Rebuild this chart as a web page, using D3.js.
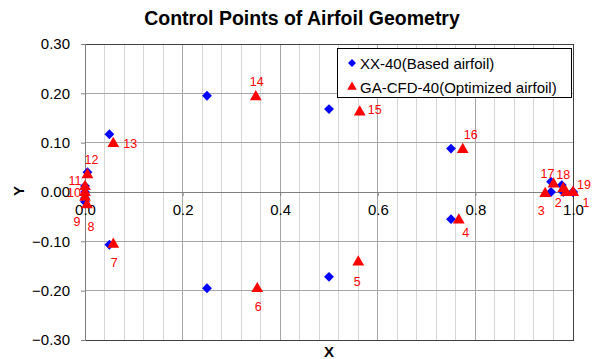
<!DOCTYPE html>
<html>
<head>
<meta charset="utf-8">
<script src="https://cdn.jsdelivr.net/npm/d3@7"></script>
<style>
  html, body { margin: 0; padding: 0; background: #fff; }
  svg { display: block; font-family: "Liberation Sans", Arial, sans-serif; }
</style>
</head>
<body>
<svg id="chart" width="597" height="359"></svg>
<script>
// Control point coordinates, numbered 1..19 (trailing edge -> lower surface -> leading edge -> upper surface)
const pointIds = [1, 2, 3, 4, 5, 6, 7, 8, 9, 10, 11, 12, 13, 14, 15, 16, 17, 18, 19];
const baseX = [1.0, 0.98, 0.955, 0.75, 0.50, 0.25, 0.05, 0.0, 0.0, 0.0, 0.0, 0.005, 0.05, 0.25, 0.50, 0.75, 0.955, 0.977, 1.0];
const baseY = [0.0, 0.0, 0.0, -0.055, -0.172, -0.195, -0.107, -0.02, -0.012, 0.0, 0.012, 0.04, 0.117, 0.195, 0.168, 0.088, 0.021, 0.014, 0.0];
const optX = [1.0, 0.986, 0.943, 0.766, 0.56, 0.353, 0.058, 0.004, 0.0, 0.0, 0.0, 0.005, 0.058, 0.35, 0.563, 0.774, 0.96, 0.98, 1.0];
const optY = [0.0, 0.0, -0.002, -0.056, -0.141, -0.195, -0.105, -0.025, -0.01, 0.0, 0.012, 0.036, 0.099, 0.194, 0.163, 0.087, 0.017, 0.008, 0.0];
const seriesNames = ["XX-40(Based airfoil)", "GA-CFD-40(Optimized airfoil)"];
const xTicks = [0.0, 0.2, 0.4, 0.6, 0.8, 1.0];
const yTicks = [-0.30, -0.20, -0.10, 0.00, 0.10, 0.20, 0.30];

const svg = d3.select("#chart");
const plotLeft = 85, plotRight = 573, plotTop = 44, plotBottom = 340;

const x = d3.scaleLinear().domain([0, 1]).range([plotLeft, plotRight]);
const y = d3.scaleLinear().domain([-0.3, 0.3]).range([plotBottom, plotTop]);

// Title
svg.append("text")
  .attr("x", 302).attr("y", 25)
  .attr("text-anchor", "middle")
  .attr("font-size", 19.5).attr("font-weight", "bold")
  .text("Control Points of Airfoil Geometry");

// Minor vertical gridlines every 0.04, major every 0.2
const minorX = d3.range(0, 1.0001, 0.04);
svg.append("g").selectAll("line").data(minorX).join("line")
  .attr("x1", d => x(d)).attr("x2", d => x(d))
  .attr("y1", plotTop).attr("y2", plotBottom)
  .attr("stroke", d => Math.abs(d / 0.2 - Math.round(d / 0.2)) < 1e-6 ? "#a6a6a6" : "#d6d6d6")
  .attr("stroke-width", 1)
  .attr("shape-rendering", "crispEdges");

// Horizontal gridlines
svg.append("g").selectAll("line").data(yTicks).join("line")
  .attr("x1", plotLeft).attr("x2", plotRight)
  .attr("y1", d => y(d)).attr("y2", d => y(d))
  .attr("stroke", "#a6a6a6")
  .attr("shape-rendering", "crispEdges");

// Plot border
svg.append("rect")
  .attr("x", plotLeft).attr("y", plotTop)
  .attr("width", plotRight - plotLeft).attr("height", plotBottom - plotTop)
  .attr("fill", "none").attr("stroke", "#404040")
  .attr("shape-rendering", "crispEdges");

// Y axis (at x = 0)
const yAxis = d3.axisLeft(y).tickValues(yTicks).tickFormat(d3.format(".2f")).tickSize(4).tickPadding(11);
const gy = svg.append("g").attr("transform", `translate(${x(0)},0)`).call(yAxis);
gy.select(".domain").attr("stroke", "#808080");
gy.selectAll(".tick line").attr("stroke", "#808080");
gy.selectAll("text").attr("font-size", 15).attr("fill", "#000")
  .attr("font-family", "'Liberation Sans', Arial, sans-serif");

// X axis (at y = 0)
const xAxis = d3.axisBottom(x).tickValues(xTicks).tickFormat(d3.format(".1f")).tickSize(4).tickPadding(8);
const gx = svg.append("g").attr("transform", `translate(0,${y(0)})`).call(xAxis);
gx.select(".domain").attr("stroke", "#808080");
gx.selectAll(".tick line").attr("stroke", "#808080");
gx.selectAll("text").attr("font-size", 15).attr("fill", "#000")
  .attr("font-family", "'Liberation Sans', Arial, sans-serif");

// Axis titles
svg.append("text")
  .attr("x", 329).attr("y", 357)
  .attr("text-anchor", "middle")
  .attr("font-size", 15).attr("font-weight", "bold")
  .text("X");
svg.append("text")
  .attr("transform", "translate(24,191) rotate(-90)")
  .attr("text-anchor", "middle")
  .attr("font-size", 15).attr("font-weight", "bold")
  .text("Y");

// Series data
const base = pointIds.map((id, i) => ({ id, x: baseX[i], y: baseY[i] }));
const opt = pointIds.map((id, i) => ({ id, x: optX[i], y: optY[i] }));

const diamond = d3.symbol().type(d3.symbolDiamond2).size(62);
const triangle = d3.symbol().type(d3.symbolTriangle).size(60);

svg.append("g").selectAll("path").data(base).join("path")
  .attr("d", diamond)
  .attr("transform", d => `translate(${x(d.x)},${y(d.y)})`)
  .attr("fill", "#0000FF");

svg.append("g").selectAll("path").data(opt).join("path")
  .attr("d", triangle)
  .attr("transform", d => `translate(${x(d.x)},${y(d.y) + 0.5})`)
  .attr("fill", "#FF0000");

// Point number label placement (dx, dy from marker centre)
const labelOffset = {
  1: [13, 11], 2: [-8, 11], 3: [-4, 18], 4: [7, 13], 5: [-1, 20],
  6: [1, 19], 7: [1, 19], 8: [4, 23], 9: [-8, 25], 10: [-11, 1],
  11: [-10, -5], 12: [4, -14], 13: [17, 1], 14: [1, -14], 15: [15, -2],
  16: [8, -14], 17: [-6, -10], 18: [0, -13], 19: [11, -7]
};
svg.append("g").selectAll("text").data(opt).join("text")
  .attr("x", d => x(d.x) + labelOffset[d.id][0])
  .attr("y", d => y(d.y) + labelOffset[d.id][1])
  .attr("text-anchor", "middle")
  .attr("dominant-baseline", "central")
  .attr("font-size", 12.5)
  .attr("fill", "#FF0000")
  .text(d => d.id);

// Legend
const lg = svg.append("g");
lg.append("rect")
  .attr("x", 337.5).attr("y", 48.5).attr("width", 234).attr("height", 49)
  .attr("fill", "#fff").attr("stroke", "#000");
lg.append("path").attr("d", d3.symbol().type(d3.symbolDiamond2).size(40)())
  .attr("transform", "translate(352,63)").attr("fill", "#0000FF");
lg.append("path").attr("d", d3.symbol().type(d3.symbolTriangle).size(40)())
  .attr("transform", "translate(352,87)").attr("fill", "#FF0000");
lg.selectAll("text.lbl").data(seriesNames).join("text")
  .attr("class", "lbl")
  .attr("x", 360).attr("y", (d, i) => 63 + i * 24)
  .attr("dominant-baseline", "central")
  .attr("font-size", 15)
  .text(d => d);
</script>
</body>
</html>
